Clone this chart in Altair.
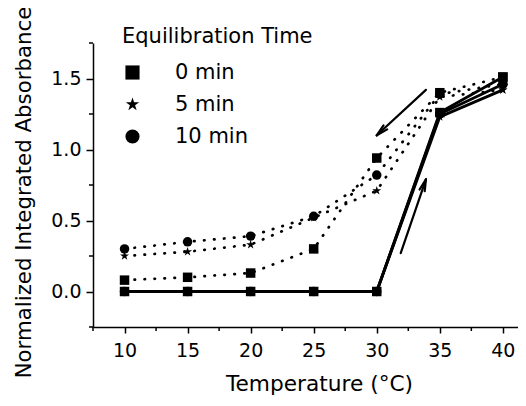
import math
import altair as alt
import pandas as pd

# ---- data ----
temps = [10, 15, 20, 25, 30, 35, 40]
series_names = ["0 min", "5 min", "10 min"]

heat_0 = [0.0, 0.0, 0.0, 0.0, 0.0, 1.26, 1.51]
heat_5 = [0.0, 0.0, 0.0, 0.0, 0.0, 1.23, 1.42]
heat_10 = [0.0, 0.0, 0.0, 0.0, 0.0, 1.25, 1.46]

cool_0 = [0.08, 0.10, 0.13, 0.30, 0.94, 1.40, 1.51]
cool_5 = [0.25, 0.28, 0.33, 0.52, 0.71, 1.37, 1.42]
cool_10 = [0.30, 0.35, 0.39, 0.53, 0.82, 1.39, 1.46]

# arrows (data coordinates): start -> end
arrow_x1 = [33.9, 31.9]
arrow_y1 = [1.42, 0.27]
arrow_x2 = [30.0, 33.9]
arrow_y2 = [1.10, 0.79]

x_major = [10, 15, 20, 25, 30, 35, 40]
x_minor = [7.5, 12.5, 17.5, 22.5, 27.5, 32.5, 37.5]
y_major = [0.0, 0.5, 1.0, 1.5]
y_minor = [-0.25, 0.25, 0.75, 1.25, 1.75]

# ---- layout ----
W, H = 425, 284
X_DOM = [7.5, 41.2]
Y_DOM = [-0.25, 1.75]
FONT = "DejaVu Sans"

STAR = ("M0,-1 L0.2245,-0.309 L0.951,-0.309 L0.363,0.118 L0.588,0.809 "
        "L0,0.382 L-0.588,0.809 L-0.363,0.118 L-0.951,-0.309 L-0.2245,-0.309 Z")

rows = []
for name, h, c in zip(series_names, [heat_0, heat_5, heat_10], [cool_0, cool_5, cool_10]):
    for t, v in zip(temps, h):
        rows.append({"temp": t, "value": v, "series": name, "phase": "heating", "key": name + " heating"})
    for t, v in zip(temps, c):
        rows.append({"temp": t, "value": v, "series": name, "phase": "cooling", "key": name + " cooling"})
df = pd.DataFrame(rows)

# arrow shafts + two barbs per head, computed from the arrow arrays
kx = W / (X_DOM[1] - X_DOM[0])
ky = H / (Y_DOM[1] - Y_DOM[0])
seg_rows = []
for x1, y1, x2, y2 in zip(arrow_x1, arrow_y1, arrow_x2, arrow_y2):
    seg_rows.append({"temp": x1, "value": y1, "tx": x2, "ty": y2})
    dx = (x2 - x1) * kx
    dy = -(y2 - y1) * ky
    L = math.hypot(dx, dy)
    ux, uy = dx / L, dy / L
    for s in (-1, 1):
        a = math.radians(13 * s)
        bx = -(ux * math.cos(a) - uy * math.sin(a)) * 12
        by = -(ux * math.sin(a) + uy * math.cos(a)) * 12
        seg_rows.append({"temp": x2, "value": y2, "tx": x2 + bx / kx, "ty": y2 - by / ky})
segs = pd.DataFrame(seg_rows)

x_scale = alt.Scale(domain=X_DOM, nice=False, zero=False)
y_scale = alt.Scale(domain=Y_DOM, nice=False, zero=False)

x_enc = alt.X("temp:Q", scale=x_scale,
              axis=alt.Axis(values=x_major, title="Temperature (°C)", format="d",
                            tickSize=6, labelPadding=8, grid=False,
                            titleFontSize=21.7, titleX=226, titleY=63,
                            titleBaseline="alphabetic", titleAlign="center"))
y_enc = alt.Y("value:Q", scale=y_scale,
              axis=alt.Axis(values=y_major, title="Normalized Integrated Absorbance", format=".1f",
                            tickSize=7, labelPadding=5, grid=False, titleLimit=500,
                            titleFontSize=21.3, titleX=-63, titleY=149, titleAngle=270,
                            titleBaseline="alphabetic", titleAlign="center"))

base = alt.Chart(df)

heat_lines = base.transform_filter("datum.phase == 'heating'").mark_line(
    color="black", strokeWidth=2.8).encode(x=x_enc, y=y_enc, detail="key:N", order="temp:Q")
cool_lines = base.transform_filter("datum.phase == 'cooling'").mark_line(
    color="black", strokeWidth=2.7, strokeDash=[0.5, 9.5], strokeCap="round").encode(
    x=x_enc, y=y_enc, detail="key:N", order="temp:Q")

points = base.mark_point(filled=True, color="black", opacity=1, size=90).encode(
    x=x_enc, y=y_enc,
    shape=alt.Shape("series:N", sort=series_names,
                    scale=alt.Scale(domain=series_names, range=["square", STAR, "circle"]),
                    legend=alt.Legend(orient="none", legendX=29, legendY=-17,
                                      title="Equilibration Time", titleFontSize=21,
                                      titleFontWeight="normal", titleColor="black",
                                      titleFont=FONT, titlePadding=15, titleLimit=400,
                                      labelFontSize=21, labelFont=FONT, labelColor="black",
                                      labelOffset=32, rowPadding=10, symbolSize=200,
                                      symbolFillColor="black", symbolStrokeColor="black",
                                      symbolStrokeWidth=0)))

arrows = alt.Chart(segs).mark_rule(color="black", strokeWidth=2.2, strokeCap="round").encode(
    x=alt.X("temp:Q", scale=x_scale), y=alt.Y("value:Q", scale=y_scale), x2="tx:Q", y2="ty:Q")

xminor_df = pd.DataFrame({"temp": x_minor})
yminor_df = pd.DataFrame({"value": y_minor})
x_minor_ticks = alt.Chart(xminor_df).mark_rule(color="black", strokeWidth=1.5).encode(
    x=alt.X("temp:Q", scale=x_scale), y=alt.value(H), y2=alt.value(H + 4))
y_minor_ticks = alt.Chart(yminor_df).mark_rule(color="black", strokeWidth=1.5).encode(
    y=alt.Y("value:Q", scale=y_scale), x=alt.value(-4), x2=alt.value(0))

chart = alt.layer(heat_lines, cool_lines, points, arrows, x_minor_ticks, y_minor_ticks).properties(
    width=W, height=H,
    autosize=alt.AutoSizeParams(type="none"),
    padding={"left": 85, "top": 35, "right": 0, "bottom": 70},
).configure(background="white").configure_view(stroke=None).configure_axis(
    domainColor="black", domainWidth=1.5, tickColor="black", tickWidth=1.5,
    labelColor="black", titleColor="black", labelFont=FONT, titleFont=FONT,
    labelFontSize=19, titleFontWeight="normal",
)

chart.save("out.html", embed_options={"renderer": "svg", "actions": False})
